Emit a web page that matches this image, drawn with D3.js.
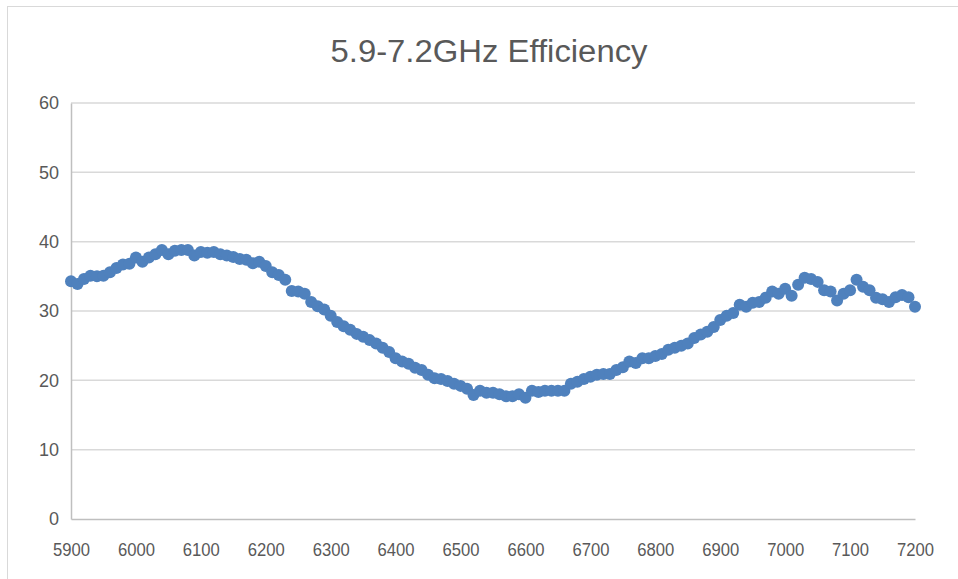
<!DOCTYPE html>
<html><head><meta charset="utf-8">
<script src="https://cdn.jsdelivr.net/npm/d3@7"></script>
<style>body{margin:0;background:#fff;}svg{display:block;}</style>
</head><body>
<script>
const title = "5.9-7.2GHz Efficiency";
const freqStart = 5900, freqStep = 10;
const efficiency = [
34.3,33.9,34.6,35.1,35.0,35.1,35.6,36.2,36.7,36.8,
37.7,37.1,37.7,38.2,38.8,38.2,38.7,38.8,38.8,38.0,
38.5,38.4,38.5,38.2,38.0,37.8,37.5,37.4,36.9,37.1,
36.5,35.6,35.2,34.5,32.9,32.8,32.5,31.3,30.7,30.2,
29.3,28.4,27.8,27.3,26.7,26.3,25.8,25.3,24.7,24.1,
23.2,22.7,22.4,21.8,21.5,20.8,20.3,20.2,19.9,19.5,
19.2,18.8,17.9,18.5,18.2,18.2,18.0,17.7,17.7,18.0,
17.5,18.5,18.3,18.5,18.5,18.5,18.5,19.5,19.8,20.2,
20.5,20.8,20.9,20.9,21.5,21.9,22.7,22.5,23.2,23.2,
23.5,23.8,24.4,24.7,25.0,25.3,26.1,26.6,27.0,27.7,
28.7,29.3,29.7,30.9,30.6,31.2,31.3,31.9,32.8,32.5,
33.2,32.2,33.8,34.8,34.6,34.2,33.0,32.8,31.5,32.5,
33.0,34.5,33.5,33.0,31.9,31.7,31.3,32.0,32.3,32.0,
30.6
];
const freqs = efficiency.map((_, i) => freqStart + i * freqStep);
const xTicks = [5900,6000,6100,6200,6300,6400,6500,6600,6700,6800,6900,7000,7100,7200];
const yTicks = [0,10,20,30,40,50,60];

const W = 958, H = 579;
const m = {left:71, right:43, top:103, bottom:60};
const svg = d3.select("body").append("svg").attr("width", W).attr("height", H);
const font = "'Liberation Sans',Arial,sans-serif";

svg.append("rect").attr("x",7.5).attr("y",6.5).attr("width",W+10).attr("height",H+10)
  .attr("fill","none").attr("stroke","#d9d9d9").attr("stroke-width",1);

const x = d3.scaleLinear().domain([5900,7200]).range([m.left, W - m.right]);
const y = d3.scaleLinear().domain([0,60]).range([H - m.bottom, m.top]);

// grid
svg.append("g").selectAll("line").data(yTicks.filter(d=>d>0)).join("line")
  .attr("x1", m.left).attr("x2", W - m.right)
  .attr("y1", d=>y(d)).attr("y2", d=>y(d))
  .attr("stroke","#d9d9d9").attr("stroke-width",1.5);

// axes
const xAxis = svg.append("g").attr("transform",`translate(0,${y(0)})`)
  .call(d3.axisBottom(x).tickValues(xTicks).tickSize(0).tickPadding(24).tickFormat(d3.format("d")));
xAxis.select(".domain").attr("stroke","#bfbfbf").attr("stroke-width",1.5);
const yAxis = svg.append("g").attr("transform",`translate(${m.left},0)`)
  .call(d3.axisLeft(y).tickValues(yTicks).tickSize(0).tickPadding(12));
yAxis.select(".domain").attr("stroke","#bfbfbf").attr("stroke-width",1.5);
svg.selectAll(".tick text").attr("font-family",font).attr("font-size",18).attr("fill","#595959");
xAxis.selectAll(".tick text").attr("textLength",37).attr("lengthAdjust","spacingAndGlyphs");

// points
svg.append("g").selectAll("circle").data(efficiency).join("circle")
  .attr("cx",(d,i)=>x(freqs[i])).attr("cy",d=>y(d)).attr("r",6)
  .attr("fill","#4F81BD");

svg.append("text").attr("x", 489).attr("y", 62).attr("text-anchor","middle")
  .attr("font-family",font).attr("font-size",31).attr("fill","#595959")
  .attr("textLength",317).attr("lengthAdjust","spacingAndGlyphs").text(title);
</script>
</body></html>
